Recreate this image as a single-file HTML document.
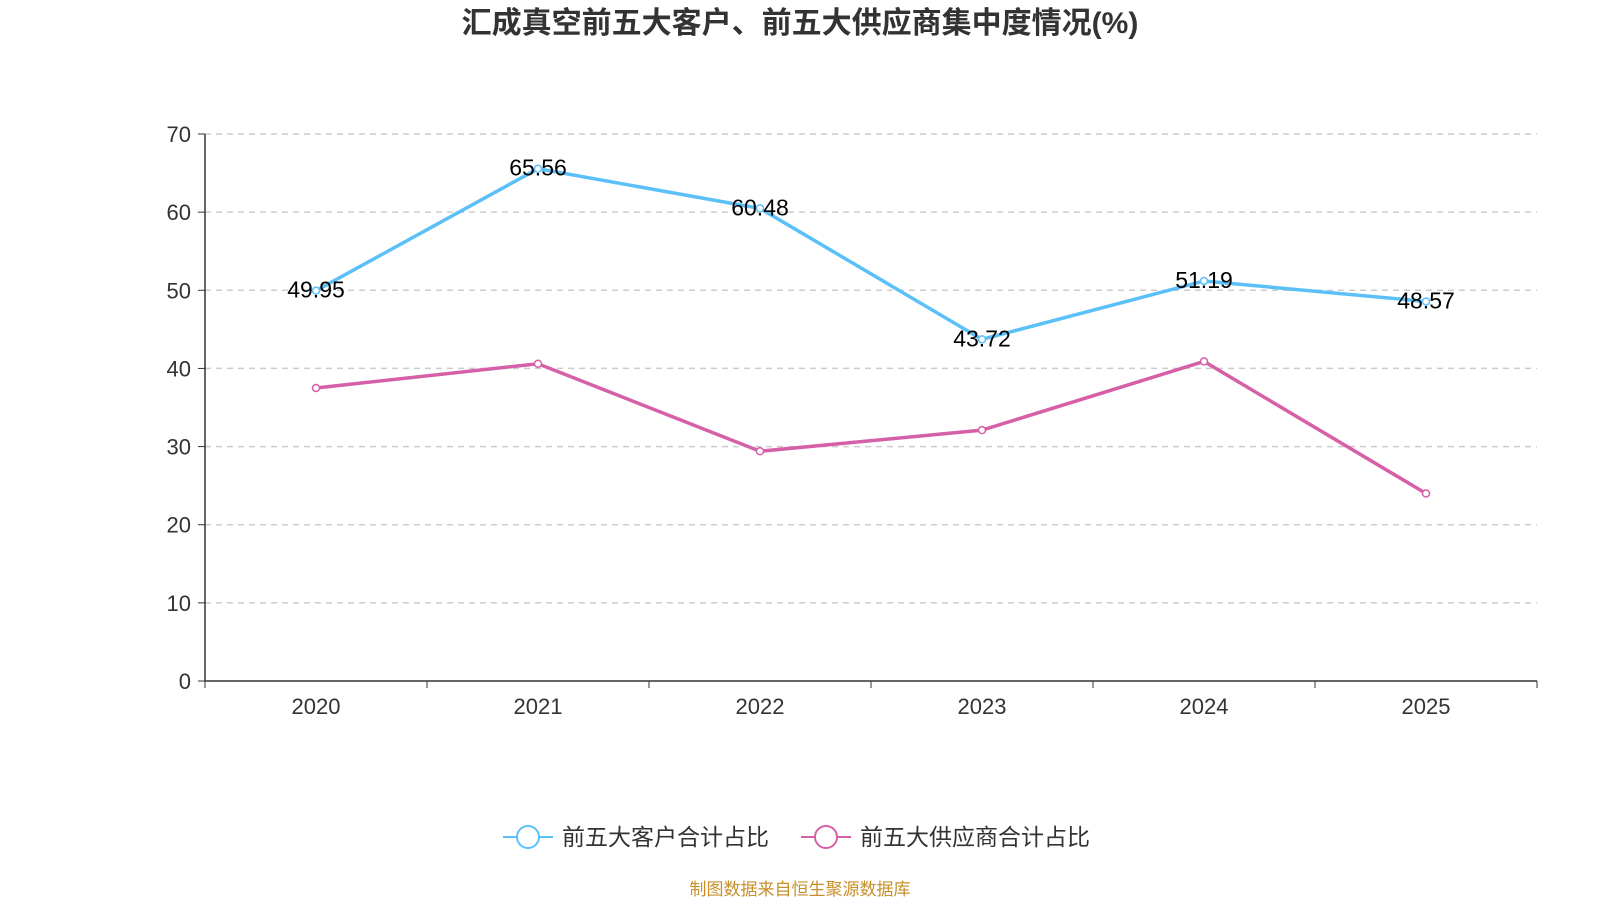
<!DOCTYPE html>
<html><head><meta charset="utf-8">
<style>
body{margin:0;background:#fff;width:1600px;height:900px;overflow:hidden;font-family:"Liberation Sans","Noto Sans CJK SC",sans-serif;}
</style></head>
<body>
<svg id="chart" width="1600" height="900" xmlns="http://www.w3.org/2000/svg" font-family="Liberation Sans, Noto Sans CJK SC, sans-serif">
<text x="800" y="33" text-anchor="middle" font-size="30" font-weight="bold" fill="#333">汇成真空前五大客户、前五大供应商集中度情况(%)</text>
<g id="grid"></g><g id="axes"></g><g id="series"></g>
<g>
<g>
<line x1="503" y1="837" x2="553" y2="837" stroke="#5bc0f8" stroke-width="2"/>
<circle cx="528" cy="837" r="11" fill="#fff" stroke="#5bc0f8" stroke-width="2"/>
<text x="562" y="845" font-size="23" fill="#333">前五大客户合计占比</text></g>
<g>
<line x1="801" y1="837" x2="851" y2="837" stroke="#d660a8" stroke-width="2"/>
<circle cx="826" cy="837" r="11" fill="#fff" stroke="#d660a8" stroke-width="2"/>
<text x="860" y="845" font-size="23" fill="#333">前五大供应商合计占比</text></g>
</g>
<text x="800" y="895" text-anchor="middle" font-size="17" fill="#c8902a">制图数据来自恒生聚源数据库</text>
</svg>
<script>
const categories=["2020","2021","2022","2023","2024","2025"];
const customers=[49.95,65.56,60.48,43.72,51.19,48.57];
const suppliers=[37.5,40.6,29.4,32.1,40.9,24.0];
const yTicks=[0,10,20,30,40,50,60,70];
const NS="http://www.w3.org/2000/svg";
const L=205,R=1537,T=134,B=681,yMax=70;
const bw=(R-L)/categories.length;
const x=i=>L+bw*(i+0.5);
const y=v=>B-(v/yMax)*(B-T);
function mk(tag,attrs,parent,text){const e=document.createElementNS(NS,tag);for(const k in attrs)e.setAttribute(k,attrs[k]);if(text!==undefined)e.textContent=text;document.getElementById(parent).appendChild(e);return e;}
yTicks.forEach(t=>{
 if(t>0){const g=mk('line',{x1:L,x2:R,y1:y(t),y2:y(t),stroke:'#ccc','stroke-dasharray':'6,5','stroke-width':1.5},'grid');
 
 }
 mk('line',{x1:L-7,x2:L,y1:y(t),y2:y(t),stroke:'#333'},'axes');
 const lb=mk('text',{x:L-14,y:y(t)+8,'text-anchor':'end','font-size':22,fill:'#333'},'axes',t);
 
 
});
const ya=mk('line',{x1:L,x2:L,y1:T,y2:B,stroke:'#333','stroke-width':1.5},'axes');


const xa=mk('line',{x1:L,x2:R,y1:B,y2:B,stroke:'#333','stroke-width':1.5},'axes');


for(let i=0;i<=categories.length;i++)mk('line',{x1:L+bw*i,x2:L+bw*i,y1:B,y2:B+7,stroke:'#333'},'axes');
categories.forEach((c,i)=>{
 const t=mk('text',{x:x(i),y:B+33,'text-anchor':'middle','font-size':22,fill:'#333'},'axes',c);
 
 
});
function series(vals,color,name,labels){
 const p=mk('polyline',{points:vals.map((v,i)=>x(i)+','+y(v)).join(' '),fill:'none',stroke:color,'stroke-width':3.5},'series');
 
 
 vals.forEach((v,i)=>{
  const c=mk('circle',{cx:x(i),cy:y(v),r:3.5,fill:'#fff',stroke:color,'stroke-width':1.5},'series');
  
  
  if(labels){const t=mk('text',{x:x(i),y:y(v)+7,'text-anchor':'middle','font-size':23,fill:'#000'},'series',v.toFixed(2));
  
  }
 });
}
series(suppliers,'#d660a8','suppliers',false);
series(customers,'#5bc0f8','customers',true);
</script>
</body></html>
